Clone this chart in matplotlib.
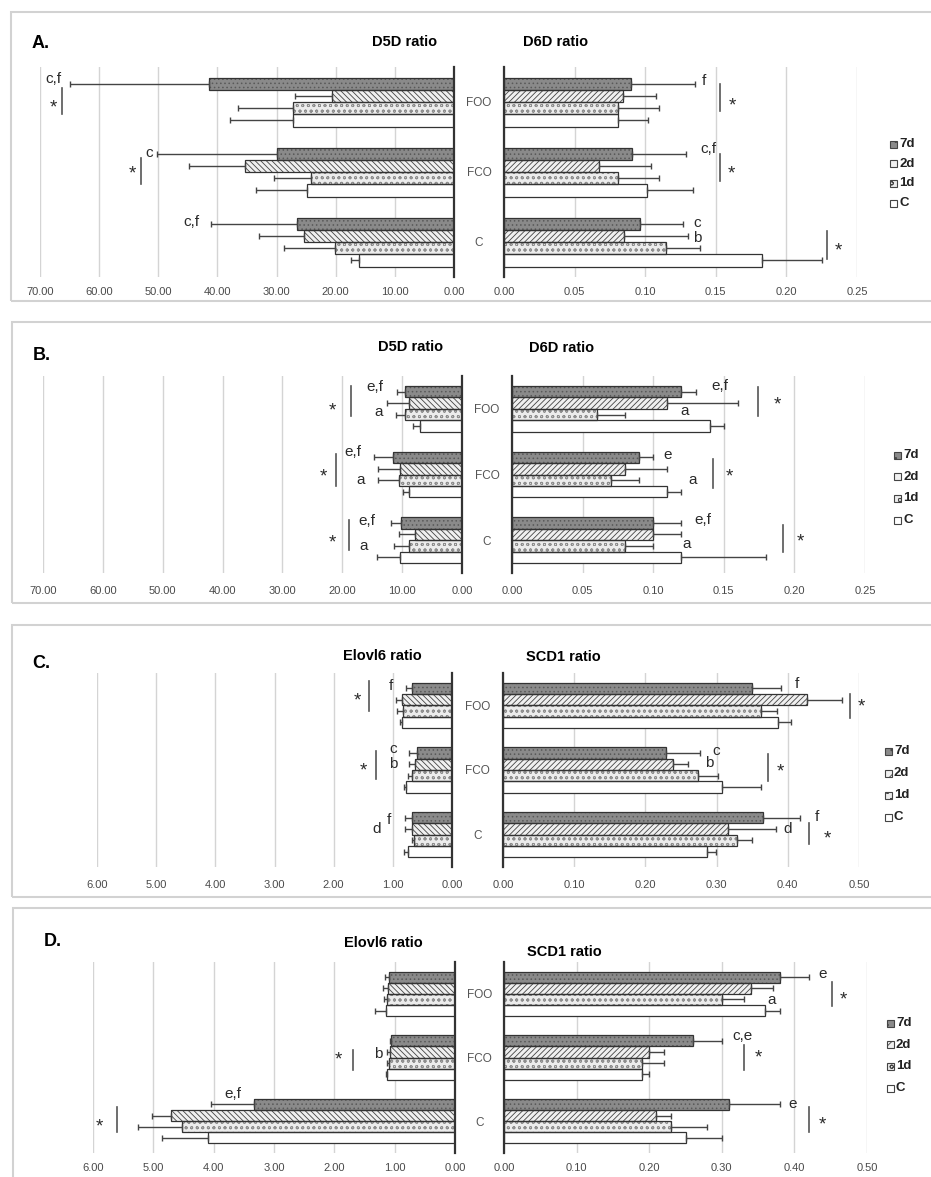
import numpy as np
import matplotlib
matplotlib.use('Agg')
import matplotlib.pyplot as plt
from matplotlib.patches import Rectangle

plt.rcParams['font.family'] = ['Liberation Sans', 'DejaVu Sans']
plt.rcParams['hatch.linewidth'] = 0.6

# Data: rows = series (7d, 2d, 1d, C), columns = groups (FOO, FCO, C)
groups = ['FOO', 'FCO', 'C']
series = ['7d', '2d', '1d', 'C']

A_d5d_mean = [[41.4, 30.0, 26.5], [20.7, 35.3, 25.3], [27.3, 24.1, 20.2], [27.3, 24.9, 16.1]]
A_d5d_err = [[23.6, 20.2, 14.6], [6.2, 9.5, 7.7], [9.2, 6.4, 8.6], [10.6, 8.5, 1.4]]
A_d6d_mean = [[0.090, 0.091, 0.096], [0.084, 0.067, 0.085], [0.081, 0.081, 0.115], [0.081, 0.101, 0.183]]
A_d6d_err = [[0.045, 0.038, 0.031], [0.024, 0.037, 0.045], [0.029, 0.029, 0.024], [0.021, 0.033, 0.042]]

B_d5d_mean = [[9.5, 11.6, 10.2], [8.8, 10.3, 7.8], [9.5, 10.6, 8.8], [7.1, 8.8, 10.3]]
B_d5d_err = [[1.4, 3.1, 1.7], [3.8, 3.7, 2.7], [1.5, 3.4, 2.5], [1.1, 1.0, 3.9]]
B_d6d_mean = [[0.12, 0.09, 0.10], [0.11, 0.08, 0.10], [0.06, 0.07, 0.08], [0.14, 0.11, 0.12]]
B_d6d_err = [[0.01, 0.01, 0.02], [0.05, 0.03, 0.02], [0.02, 0.02, 0.02], [0.01, 0.01, 0.06]]

C_elovl6_mean = [[0.68, 0.59, 0.68], [0.84, 0.62, 0.68], [0.82, 0.68, 0.65], [0.85, 0.78, 0.74]]
C_elovl6_err = [[0.09, 0.13, 0.12], [0.10, 0.10, 0.12], [0.11, 0.06, 0.03], [0.03, 0.03, 0.07]]
C_scd1_mean = [[0.350, 0.229, 0.365], [0.427, 0.239, 0.316], [0.362, 0.274, 0.328], [0.386, 0.307, 0.286]]
C_scd1_err = [[0.040, 0.048, 0.052], [0.049, 0.021, 0.067], [0.023, 0.028, 0.022], [0.018, 0.055, 0.013]]

D_elovl6_mean = [[1.09, 1.06, 3.33], [1.11, 1.08, 4.70], [1.13, 1.09, 4.52], [1.15, 1.13, 4.09]]
D_elovl6_err = [[0.07, 0.02, 0.72], [0.08, 0.05, 0.33], [0.05, 0.04, 0.73], [0.18, 0.01, 0.76]]
D_scd1_mean = [[0.38, 0.26, 0.31], [0.34, 0.20, 0.21], [0.30, 0.19, 0.23], [0.36, 0.19, 0.25]]
D_scd1_err = [[0.04, 0.04, 0.07], [0.03, 0.02, 0.02], [0.03, 0.03, 0.05], [0.02, 0.01, 0.05]]

# significance letters: (x, y, text) in data units, lines: (x, y0, y1)
A_left_txt = [(67.7, -0.33, 'c,f'), (67.7, 0.0, '*'), (51.5, 0.73, 'c'), (54.4, 0.95, '*'), (44.4, 1.71, 'c,f')]
A_left_lines = [(66.2, -0.2, 0.17), (52.9, 0.8, 1.17)]
A_right_txt = [(0.1416, -0.3, 'f'), (0.162, -0.03, '*'), (0.1445, 0.67, 'c,f'), (0.161, 0.95, '*'),
               (0.137, 1.73, 'c'), (0.137, 1.94, 'b'), (0.2365, 2.05, '*')]
A_right_lines = [(0.153, -0.26, 0.13), (0.153, 0.74, 1.13), (0.229, 1.84, 2.24)]

B_left_txt = [(14.5, -0.34, 'e,f'), (14.0, 0.05, 'a'), (21.7, -0.05, '*'),
              (18.2, 0.66, 'e,f'), (16.9, 1.09, 'a'), (23.2, 0.96, '*'),
              (15.9, 1.71, 'e,f'), (16.5, 2.09, 'a'), (21.7, 1.96, '*')]
B_left_lines = [(18.5, -0.35, 0.11), (21.0, 0.69, 1.18), (18.9, 1.69, 2.15)]
B_right_txt = [(0.147, -0.35, 'e,f'), (0.122, 0.03, 'a'), (0.188, -0.14, '*'),
               (0.110, 0.71, 'e'), (0.128, 1.08, 'a'), (0.154, 0.96, '*'),
               (0.135, 1.69, 'e,f'), (0.124, 2.06, 'a'), (0.204, 1.95, '*')]
B_right_lines = [(0.174, -0.34, 0.11), (0.142, 0.77, 1.2), (0.192, 1.77, 2.18)]

C_left_txt = [(1.03, -0.3, 'f'), (1.60, -0.14, '*'), (1.0, 0.68, 'c'), (1.0, 0.91, 'b'), (1.50, 0.93, '*'),
              (1.06, 1.77, 'f'), (1.27, 1.92, 'd')]
C_left_lines = [(1.40, -0.38, 0.08), (1.28, 0.71, 1.14)]
C_right_txt = [(0.413, -0.33, 'f'), (0.504, -0.05, '*'), (0.300, 0.71, 'c'), (0.289, 0.89, 'b'), (0.389, 0.95, '*'),
               (0.441, 1.73, 'f'), (0.400, 1.92, 'd'), (0.455, 1.98, '*')]
C_right_lines = [(0.487, -0.18, 0.2), (0.372, 0.76, 1.17), (0.430, 1.82, 2.15)]

D_left_txt = [(1.28, 0.95, 'b'), (1.94, 0.96, '*'), (3.68, 1.58, 'e,f'), (5.89, 2.01, '*')]
D_left_lines = [(1.69, 0.88, 1.19), (5.6, 1.77, 2.17)]
D_right_txt = [(0.439, -0.31, 'e'), (0.369, 0.09, 'a'), (0.468, 0.01, '*'),
               (0.328, 0.67, 'c,e'), (0.350, 0.93, '*'), (0.397, 1.73, 'e'), (0.438, 1.98, '*')]
D_right_lines = [(0.452, -0.19, 0.19), (0.331, 0.8, 1.19), (0.420, 1.78, 2.17)]

# layout in pixels of the 931x1177 figure
W, H = 931, 1177
panels = [
    dict(letter='A.', box=(11, 12, 940, 301), letter_xy=(32, 43),
         left_px=(40, 454), right_px=(504, 857), y_px=(67, 277), tick_y=293,
         lmax=70, lstep=10, rmax=0.25, rstep=0.05,
         t1=('D5D ratio', 405, 42), t2=('D6D ratio', 556, 42), leg=(893, 144, 19.7),
         left=(A_d5d_mean, A_d5d_err, A_left_txt, A_left_lines),
         right=(A_d6d_mean, A_d6d_err, A_right_txt, A_right_lines)),
    dict(letter='B.', box=(12, 322, 940, 603), letter_xy=(33, 355),
         left_px=(43, 462), right_px=(512, 865), y_px=(376, 573), tick_y=592,
         lmax=70, lstep=10, rmax=0.25, rstep=0.05,
         t1=('D5D ratio', 411, 347), t2=('D6D ratio', 562, 348), leg=(897, 455, 21.7),
         left=(B_d5d_mean, B_d5d_err, B_left_txt, B_left_lines),
         right=(B_d6d_mean, B_d6d_err, B_right_txt, B_right_lines)),
    dict(letter='C.', box=(12, 625, 940, 897), letter_xy=(32, 663),
         left_px=(97, 452), right_px=(503, 859), y_px=(673, 867), tick_y=886,
         lmax=6, lstep=1, rmax=0.5, rstep=0.1,
         t1=('Elovl6 ratio', 382, 656), t2=('SCD1 ratio', 563, 657), leg=(888, 751, 22),
         left=(C_elovl6_mean, C_elovl6_err, C_left_txt, C_left_lines),
         right=(C_scd1_mean, C_scd1_err, C_right_txt, C_right_lines)),
    dict(letter='D.', box=(13, 908, 940, 1190), letter_xy=(44, 942),
         left_px=(93, 455), right_px=(504, 867), y_px=(962, 1153), tick_y=1169,
         lmax=6, lstep=1, rmax=0.5, rstep=0.1,
         t1=('Elovl6 ratio', 383, 943), t2=('SCD1 ratio', 564, 952), leg=(890, 1023, 21.7),
         left=(D_elovl6_mean, D_elovl6_err, D_left_txt, D_left_lines),
         right=(D_scd1_mean, D_scd1_err, D_right_txt, D_right_lines)),
]

BAR_H = 0.175
styles = {
    '7d': dict(face='#8a8a8a', hatch='....', hcol='#595959'),
    '2d': dict(face='#f0f0f0', hatch='//////', hcol='#444444'),
    '1d': dict(face='#ececec', hatch='ooo', hcol='#8e8e8e'),
    'C': dict(face='#ffffff', hatch='', hcol='#ffffff'),
}


def left_hatch(h):
    return h.replace('/', '\\')


fig = plt.figure(figsize=(W / 100, H / 100), dpi=100)


def px_axes(x0, x1, y0, y1):
    return fig.add_axes([x0 / W, 1 - y1 / H, (x1 - x0) / W, (y1 - y0) / H])


def ftext(x, y, s, **kw):
    fig.text(x / W, 1 - y / H, s, **kw)


def draw_side(ax, means, errs, txt, lines, side):
    ypos = np.arange(len(groups))
    for k, lab in enumerate(series):
        st = styles[lab]
        h = st['hatch'] if side == 'right' else left_hatch(st['hatch'])
        yy = ypos + (k - 1.5) * BAR_H
        ax.barh(yy, means[k], height=BAR_H, color=st['face'], edgecolor=st['hcol'],
                hatch=h, linewidth=0, zorder=3)
        ax.barh(yy, means[k], height=BAR_H, fill=False, edgecolor='#333333',
                linewidth=0.9, zorder=3.5)
        ax.errorbar(means[k], yy, xerr=[np.zeros(len(groups)), errs[k]], fmt='none',
                    ecolor='#444444', elinewidth=1.0, capsize=2, capthick=1.0, zorder=4)
    for x, y, s in txt:
        fs = 13.5 if s == '*' else 11
        ax.text(x, y + (0.08 if s == '*' else 0), s, fontsize=fs, color='#2a2a2a',
                ha='center', va='center', zorder=5, clip_on=False)
    for x, y0, y1 in lines:
        ax.plot([x, x], [y0, y1], color='#555555', lw=1.2, zorder=5, clip_on=False)


for p in panels:
    x0, y0, x1, y1 = p['box']
    fig.patches.append(Rectangle((x0 / W, 1 - y1 / H), (x1 - x0) / W, (y1 - y0) / H,
                                 transform=fig.transFigure, fill=False,
                                 edgecolor='#d2d2d2', lw=1.5))
    ftext(*p['letter_xy'], p['letter'], fontsize=13, fontweight='bold', va='center')
    for t in (p['t1'], p['t2']):
        ftext(t[1], t[2], t[0], fontsize=10.5, fontweight='bold', ha='center', va='center')

    gy0, gy1 = p['y_px']
    pad_pt = (p['tick_y'] - 5.5 - gy1) / 1.389

    # left (mirrored) axis
    axl = px_axes(p['left_px'][0], p['left_px'][1], gy0, gy1)
    m, e, txt, ln = p['left']
    draw_side(axl, m, e, txt, ln, 'left')
    axl.set_xlim(p['lmax'], 0)
    lt = np.arange(0, p['lmax'] + p['lstep'] / 2, p['lstep'])
    axl.set_xticks(lt)
    axl.set_xticklabels(['%.2f' % v for v in lt])
    axl.set_yticks([])
    for s in ['top', 'left', 'bottom']:
        axl.spines[s].set_visible(False)
    axl.spines['right'].set_color('#333333')
    axl.spines['right'].set_linewidth(1.6)
    axl.spines['right'].set_zorder(6)

    # right axis
    axr = px_axes(p['right_px'][0], p['right_px'][1], gy0, gy1)
    m, e, txt, ln = p['right']
    draw_side(axr, m, e, txt, ln, 'right')
    axr.set_xlim(0, p['rmax'])
    rt = np.arange(0, p['rmax'] + p['rstep'] / 2, p['rstep'])
    axr.set_xticks(rt)
    axr.set_xticklabels(['%.2f' % v for v in rt])
    mid_pad = (p['right_px'][0] - (p['left_px'][1] + p['right_px'][0]) / 2) / 1.389
    axr.set_yticks(np.arange(len(groups)))
    axr.set_yticklabels(groups, ha='center')
    axr.tick_params(axis='y', length=0, pad=mid_pad, labelsize=8.5, labelcolor='#555555')
    for s in ['top', 'right', 'bottom']:
        axr.spines[s].set_visible(False)
    axr.spines['left'].set_color('#333333')
    axr.spines['left'].set_linewidth(1.6)
    axr.spines['left'].set_zorder(6)

    for ax in (axl, axr):
        ax.set_ylim(len(groups) - 0.5, -0.5)
        ax.set_facecolor('none')
        ax.grid(axis='x', color='#d4d4d4', lw=1.0, zorder=0)
        ax.set_axisbelow(True)
        ax.tick_params(axis='x', length=0, pad=pad_pt, labelsize=8, labelcolor='#4a4a4a')

    # legend drawn by hand to match the spacing
    lx, ly, dy = p['leg']
    for k, lab in enumerate(series):
        st = styles[lab]
        cy = ly + k * dy
        fig.patches.append(Rectangle(((lx - 3.5) / W, 1 - (cy + 3.5) / H), 7 / W, 7 / H,
                                     transform=fig.transFigure, facecolor=st['face'],
                                     edgecolor='#444444', hatch=st['hatch'][:2], lw=0.8))
        ftext(lx + 6, cy, lab, fontsize=9.5, fontweight='bold', va='center', color='#222222')

fig.savefig('out.png', dpi=100)
